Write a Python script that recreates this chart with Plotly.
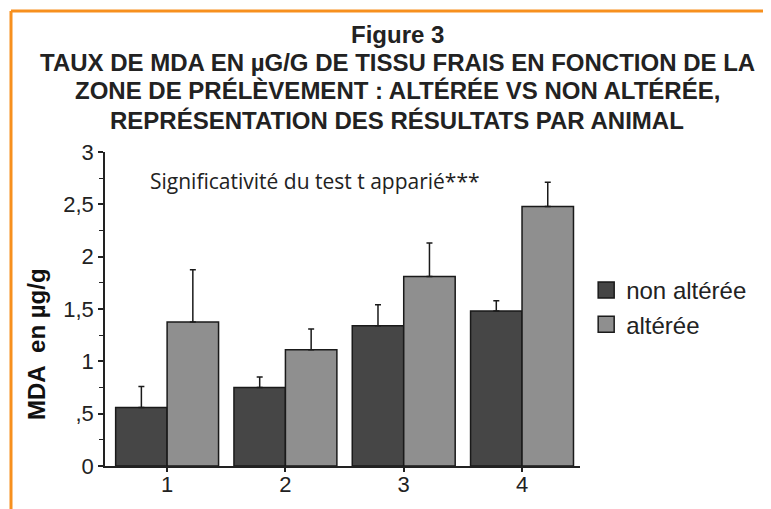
import plotly.graph_objects as go

animals = [1, 2, 3, 4]
non_alteree = [0.56, 0.75, 1.34, 1.48]
non_alteree_err = [0.20, 0.10, 0.20, 0.10]
alteree = [1.375, 1.11, 1.81, 2.48]
alteree_err = [0.50, 0.20, 0.32, 0.23]
ytick_vals = [0, 0.5, 1, 1.5, 2, 2.5, 3]
ytick_text = ["0", ",5", "1", "1,5", "2", "2,5", "3"]

title_lines = [
    "Figure 3",
    "TAUX DE MDA EN µG/G DE TISSU FRAIS EN FONCTION DE LA",
    "ZONE DE PRÉLÈVEMENT : ALTÉRÉE VS NON ALTÉRÉE,",
    "REPRÉSENTATION DES RÉSULTATS PAR ANIMAL",
]

DARK = "#464646"
LIGHT = "#8f8f8f"
ORANGE = "#f7901e"
SANS = "Arial, Liberation Sans, sans-serif"

# page body has an 8px default margin: place things relative to the window
OFF = 8
L, T, PW, PH = 105 - OFF, 152 - OFF, 475, 314


def px(x):
    return (x - OFF - L) / PW


def py(y):
    return (T + PH - (y - OFF)) / PH


fig = go.Figure()
for name, vals, errs, col in [("non altérée", non_alteree, non_alteree_err, DARK),
                              ("altérée", alteree, alteree_err, LIGHT)]:
    fig.add_trace(go.Bar(
        x=animals, y=vals, name=name, showlegend=False,
        marker=dict(color=col, line=dict(color="#1a1a1a", width=1.5)),
        error_y=dict(type="data", symmetric=False, array=errs,
                     arrayminus=[0] * len(errs), color="#1a1a1a",
                     thickness=1.5, width=3),
    ))
    # legend entry with larger square swatch
    fig.add_trace(go.Scatter(
        x=[None], y=[None], mode="markers", name=name,
        marker=dict(symbol="square", size=16, color=col,
                    line=dict(color="#1a1a1a", width=1.5)),
    ))

fig.update_layout(
    width=771, height=509,
    margin=dict(l=L, r=771 - L - PW, t=T, b=509 - T - PH),
    paper_bgcolor="white", plot_bgcolor="white",
    barmode="group", bargap=0.13, bargroupgap=0,
    showlegend=True,
    legend=dict(x=1.013, y=py(307.5), xanchor="left", yanchor="middle",
                font=dict(family=SANS, size=24, color="#222"),
                itemsizing="trace", tracegroupgap=0, bgcolor="rgba(0,0,0,0)"),
    font=dict(family=SANS, color="#222"),
)
fig.update_xaxes(
    range=[0.475, 4.49], tickvals=animals, ticktext=[str(a) for a in animals],
    showline=True, linecolor="#222", linewidth=1.5, ticks="outside", ticklen=4,
    tickwidth=1.5, tickcolor="#222", showgrid=False, zeroline=False,
    ticklabelstandoff=-6,
    tickfont=dict(family=SANS, size=22, color="#222"),
)
fig.update_yaxes(
    range=[0, 3], tickvals=ytick_vals, ticktext=ytick_text,
    showline=True, linecolor="#222", linewidth=1.5, ticks="outside", ticklen=5,
    tickwidth=1.5, tickcolor="#222", showgrid=False, zeroline=False,
    tickfont=dict(family=SANS, size=22, color="#222"),
    minor=dict(dtick=0.25, ticks="outside", ticklen=4, tickcolor="#222", tickwidth=1),
)

# Title lines
ys = [35, 62, 91, 120]
for t, yy in zip(title_lines, ys):
    fig.add_annotation(
        text="<b>%s</b>" % t, xref="paper", yref="paper",
        x=px(397), y=py(yy), xanchor="center", yanchor="middle",
        showarrow=False,
        font=dict(family=SANS, size=24, color="#222"),
    )

# Y axis title
fig.add_annotation(
    text="<b>MDA  en µg/g</b>", xref="paper", yref="paper",
    x=px(36), y=py(344), textangle=-90,
    xanchor="center", yanchor="middle", showarrow=False,
    font=dict(family=SANS, size=24, color="#111"),
)

# Significance note
fig.add_annotation(
    text="Significativité du test t apparié***", xref="paper", yref="paper",
    x=px(148), y=py(181), xanchor="left", yanchor="middle",
    showarrow=False,
    font=dict(family="Open Sans, Lato, sans-serif", size=21, color="#222"),
)

# Orange frame (top and left)
fig.add_shape(type="line", xref="paper", yref="paper",
              x0=px(11), x1=px(790), y0=py(11), y1=py(11),
              line=dict(color=ORANGE, width=3))
fig.add_shape(type="line", xref="paper", yref="paper",
              x0=px(11), x1=px(11), y0=py(11), y1=py(530),
              line=dict(color=ORANGE, width=3))

fig.write_html("out.html")
